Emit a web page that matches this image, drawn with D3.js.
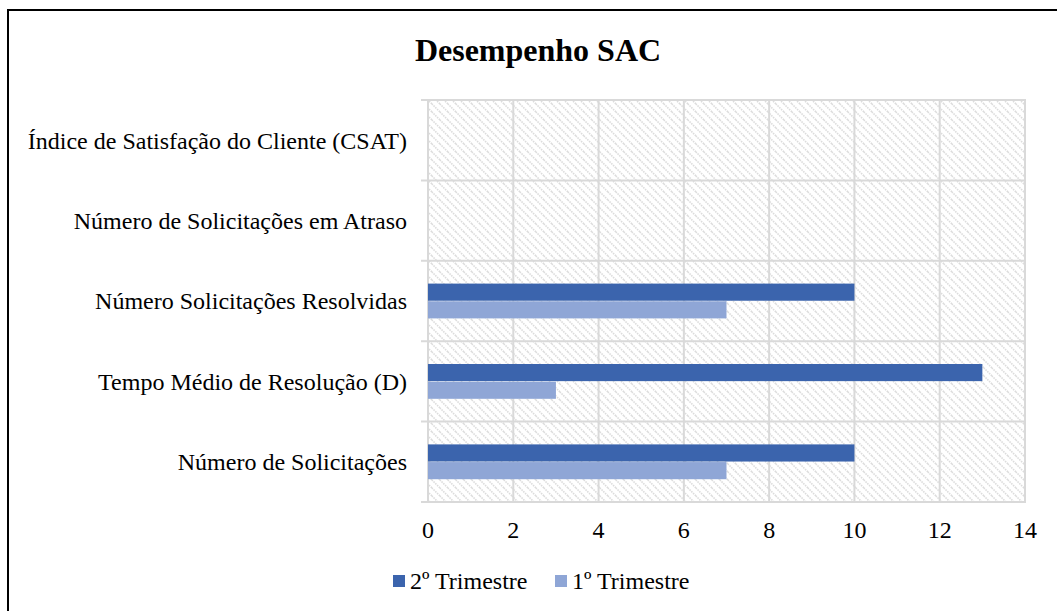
<!DOCTYPE html>
<html>
<head>
<meta charset="utf-8">
<script src="https://cdn.jsdelivr.net/npm/d3@7"></script>
<style>
  body { margin: 0; background: #fff; }
  svg text { font-family: "Liberation Serif", "Times New Roman", serif; fill: #000; }
</style>
</head>
<body>
<div id="chart"></div>
<script>
// data
var categories = [
    "Índice de Satisfação do Cliente (CSAT)",
    "Número de Solicitações em Atraso",
    "Número Solicitações Resolvidas",
    "Tempo Médio de Resolução (D)",
    "Número de Solicitações"
];
var series = ["2º Trimestre", "1º Trimestre"];
var q2Values = [0, 0, 10, 13, 10];
var q1Values = [0, 0, 7, 3, 7];
var xTicks = [0, 2, 4, 6, 8, 10, 12, 14];

var colors = { "2º Trimestre": "#3b64ad", "1º Trimestre": "#8fa6d6" };

var width = 1057, height = 611;

// plot area
var margin = { top: 100, right: 32, bottom: 109, left: 428 };
var x0 = margin.left, x1 = width - margin.right;
var y0 = margin.top, y1 = height - margin.bottom;

var svg = d3.select("#chart").append("svg")
    .attr("width", width)
    .attr("height", height);

// hatch pattern
var defs = svg.append("defs");
var pat = defs.append("pattern")
    .attr("id", "hatch")
    .attr("patternUnits", "userSpaceOnUse")
    .attr("width", 8).attr("height", 8);
pat.append("rect").attr("width", 8).attr("height", 8).attr("fill", "#fff");
pat.append("path")
    .attr("d", "M-2,-2 L10,10 M-2,6 L2,10 M6,-2 L10,2")
    .attr("stroke", "#dcdcdc")
    .attr("stroke-width", 1.6)
    .attr("stroke-dasharray", "1.5,1");

// outer frame
svg.append("rect")
    .attr("x", 8).attr("y", 10)
    .attr("width", 1200).attr("height", 800)
    .attr("fill", "#fff")
    .attr("stroke", "#000")
    .attr("stroke-width", 2);

var x = d3.scaleLinear().domain([0, 14]).range([x0, x1]);
var y = d3.scaleBand().domain(categories).range([y0, y1]);
var ySub = d3.scaleBand().domain(series).range([0, y.bandwidth()]).paddingInner(0.03).paddingOuter(1.29);

// plot background
svg.append("rect")
    .attr("x", x0).attr("y", y0)
    .attr("width", x1 - x0).attr("height", y1 - y0)
    .attr("fill", "url(#hatch)");

// vertical gridlines
svg.append("g").selectAll("line")
    .data(xTicks)
    .enter().append("line")
    .attr("x1", function(d) { return x(d); })
    .attr("x2", function(d) { return x(d); })
    .attr("y1", y0).attr("y2", y1)
    .attr("stroke", "#d9d9d9")
    .attr("stroke-width", 2);

// horizontal lines (band boundaries with tick stubs)
var bounds = categories.map(function(c) { return y(c); }).concat([y1]);
svg.append("g").selectAll("line")
    .data(bounds)
    .enter().append("line")
    .attr("x1", x0 - 7).attr("x2", x1 + 1)
    .attr("y1", function(d) { return d; })
    .attr("y2", function(d) { return d; })
    .attr("stroke", "#d9d9d9")
    .attr("stroke-width", 2);

// bars
var rows = categories.map(function(c, i) {
    return { cat: c, vals: [
        { s: series[0], v: q2Values[i] },
        { s: series[1], v: q1Values[i] }
    ]};
});

var groups = svg.append("g").selectAll("g")
    .data(rows)
    .enter().append("g")
    .attr("transform", function(d) { return "translate(0," + y(d.cat) + ")"; });

groups.selectAll("rect")
    .data(function(d) { return d.vals.filter(function(e) { return e.v > 0; }); })
    .enter().append("rect")
    .attr("x", x(0))
    .attr("y", function(d) { return ySub(d.s); })
    .attr("width", function(d) { return x(d.v) - x(0); })
    .attr("height", ySub.bandwidth())
    .attr("fill", function(d) { return colors[d.s]; });

// category labels
svg.append("g").selectAll("text")
    .data(categories)
    .enter().append("text")
    .attr("x", x0 - 21)
    .attr("y", function(d) { return y(d) + y.bandwidth() / 2; })
    .attr("dy", "0.35em")
    .attr("text-anchor", "end")
    .attr("font-size", 24)
    .text(function(d) { return d; });

// x tick labels
svg.append("g").selectAll("text")
    .data(xTicks)
    .enter().append("text")
    .attr("x", function(d) { return x(d); })
    .attr("y", y1 + 36)
    .attr("text-anchor", "middle")
    .attr("font-size", 24)
    .text(function(d) { return d; });

// title
svg.append("text")
    .attr("x", 538).attr("y", 61)
    .attr("text-anchor", "middle")
    .attr("font-size", 32)
    .attr("font-weight", "bold")
    .text("Desempenho SAC");

// legend
var legend = svg.append("g").attr("transform", "translate(393,581)");
var lx = [0, 162];
series.forEach(function(s, i) {
    var g = legend.append("g").attr("transform", "translate(" + lx[i] + ",0)");
    g.append("rect")
        .attr("x", 0).attr("y", -6)
        .attr("width", 12).attr("height", 12)
        .attr("fill", colors[s]);
    g.append("text")
        .attr("x", 17).attr("y", 0)
        .attr("dy", "0.35em")
        .attr("font-size", 24)
        .text(s);
});
</script>
</body>
</html>
